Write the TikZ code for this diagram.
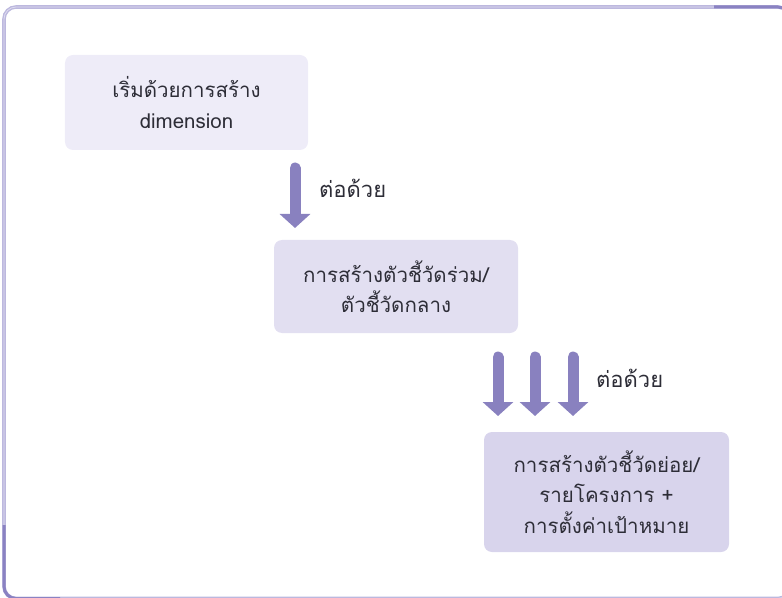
\documentclass[tikz,border=0pt]{standalone}
\usepackage{fontspec}
\setmainfont{Loma}[Script=Thai]
\usepackage{tikz}
\usetikzlibrary{arrows.meta, positioning}
\definecolor{myframe}{RGB}{188,184,222}
\definecolor{myframein}{RGB}{222,220,240}
\definecolor{myaccent}{RGB}{138,130,194}
\definecolor{myarrow}{RGB}{137,129,191}
\definecolor{mytext}{RGB}{45,45,55}
\definecolor{boxone}{RGB}{238,236,248}
\definecolor{boxtwo}{RGB}{226,223,241}
\definecolor{boxthree}{RGB}{216,212,236}
\tikzset{
  stepbox/.style={rectangle, rounded corners=8bp, draw=none,
    align=center, font=\fontsize{20.5bp}{30.5bp}\selectfont,
    text=mytext, inner sep=0pt},
  lbl/.style={font=\fontsize{22bp}{24bp}\selectfont, text=mytext,
    anchor=west, inner sep=0pt},
  fatarrow/.style={-{Triangle[width=30bp, length=14bp]},
    line width=11bp, line cap=round, color=myarrow},
  frame/.style={draw=myframe, double=myframein, double distance=0.8bp,
    line width=1.4bp, rounded corners=12bp},
  accent/.style={draw=myaccent, line width=3bp, rounded corners=12bp}
}
\begin{document}
\begin{tikzpicture}[x=1bp, y=-1bp]
  \useasboundingbox (0,0) rectangle (782,598);
  % outer frame
  \draw[frame] (4,7) rectangle (790,598.5);
  \draw[accent] (714,7) -| (790,60);
  \draw[accent] (4,525) |- (60,598.5);
  % steps
  \node[stepbox, fill=boxone, minimum width=243bp, minimum height=95bp]
    (start) at (186.5,102.5) {เริ่มด้วยการสร้าง\\dimension};
  \node[stepbox, fill=boxtwo, minimum width=244bp, minimum height=93bp]
    (common) at (396,286.5) {การสร้างตัวชี้วัดร่วม/\\ตัวชี้วัดกลาง};
  \node[stepbox, fill=boxthree, minimum width=245bp, minimum height=120bp]
    (project) at (606.5,492) {การสร้างตัวชี้วัดย่อย/\\รายโครงการ +\\การตั้งค่าเป้าหมาย};
  % arrows
  \coordinate (a1s) at (295,168);
  \coordinate (a1e) at (295,228);
  \draw[fatarrow] (a1s) -- (a1e);
  \node[lbl] (next1) at (319,188) {ต่อด้วย};
  \foreach \ax [count=\i] in {498,535,573} {
    \coordinate (b\i s) at (\ax,357);
    \coordinate (b\i e) at (\ax,416);
    \draw[fatarrow] (b\i s) -- (b\i e);
  }
  \node[lbl] (next2) at (596,378) {ต่อด้วย};
\end{tikzpicture}
\end{document}
